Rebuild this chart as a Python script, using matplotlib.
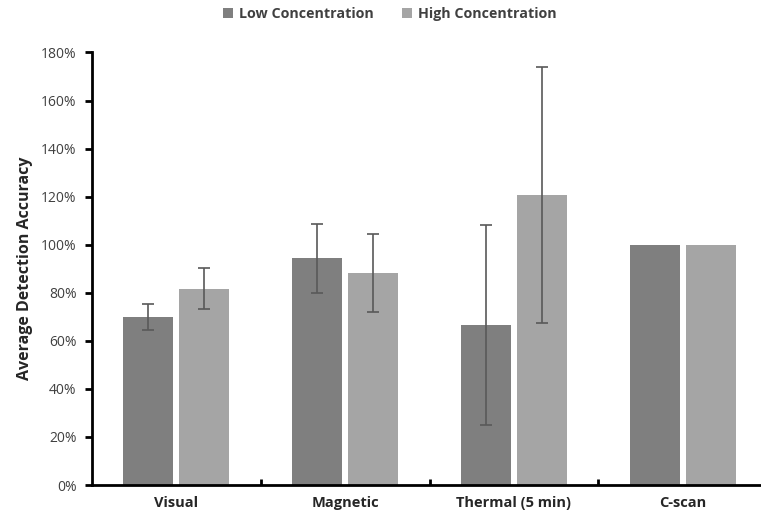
import numpy as np
import matplotlib.pyplot as plt
from matplotlib.ticker import PercentFormatter

plt.rcParams['font.family'] = ['Open Sans', 'DejaVu Sans']

# Detection accuracy (%) by method and concentration
methods = ['Visual', 'Magnetic', 'Thermal (5 min)', 'C-scan']
low_mean = [69.8, 94.3, 66.6, 100.0]
low_err = [5.4, 14.2, 41.5, 0.0]
high_mean = [81.7, 88.2, 120.7, 100.0]
high_err = [8.4, 16.4, 53.3, 0.0]

x = np.arange(len(methods))
width = 0.296
offset = 0.166

fig = plt.figure(figsize=(7.61, 5.18), dpi=100)
ax = fig.add_axes([0.1209, 0.0637, 0.887, 0.835])

err_style = dict(ecolor='#595959', elinewidth=1.2, capsize=4, capthick=1.2)
ax.bar(x - offset, low_mean, width, color='#7f7f7f', label='Low Concentration',
       yerr=[e if e else np.nan for e in low_err], error_kw=err_style)
ax.bar(x + offset, high_mean, width, color='#a5a5a5', label='High Concentration',
       yerr=[e if e else np.nan for e in high_err], error_kw=err_style)

ax.set_xlim(-0.5, 3.5)
ax.set_ylim(0, 180)
ax.set_yticks(np.arange(0, 181, 20))
ax.yaxis.set_major_formatter(PercentFormatter(decimals=0))
ax.set_xticks(x)
ax.set_xticklabels(methods, fontweight='bold', fontsize=10.5, color='#262626')
ax.set_xticks(np.arange(0.5, 3.6, 1), minor=True)
ax.tick_params(axis='x', which='major', length=0, pad=8)
ax.tick_params(axis='x', which='minor', direction='in', length=4, width=2)
ax.tick_params(axis='y', direction='out', length=5, width=2, labelsize=10,
               labelcolor='#404040', pad=6)
ax.set_ylabel('Average Detection Accuracy', fontweight='bold', fontsize=11.5,
              labelpad=6, color='#262626')

for side in ('top', 'right'):
    ax.spines[side].set_visible(False)
for side in ('left', 'bottom'):
    ax.spines[side].set_linewidth(2)

fig.legend(loc='center', bbox_to_anchor=(0.512, 0.973), ncol=2, frameon=False,
           prop={'weight': 'bold', 'size': 10.3}, handlelength=0.7,
           handleheight=0.7, columnspacing=2.0, handletextpad=0.4,
           labelcolor='#404040')

fig.savefig('out.png', dpi=100)
